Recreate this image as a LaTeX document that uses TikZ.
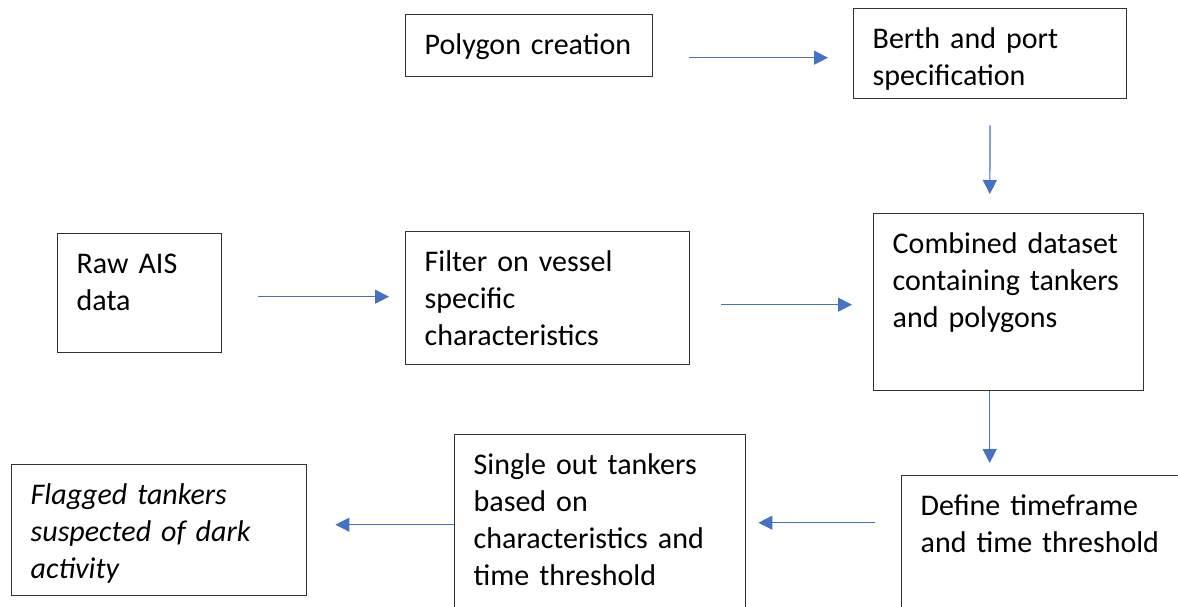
\documentclass[tikz,border=0pt]{standalone}
\usepackage{fontspec}
\setmainfont{Carlito}
\usetikzlibrary{arrows.meta}
\definecolor{arblue}{HTML}{4472C4}

\begin{document}
\begin{tikzpicture}[
  x=0.5pt, y=-0.5pt,
  font=\fontsize{15}{18.5}\selectfont,
  box/.style={draw=black!80, line width=0.7pt, anchor=north west, align=left,
              inner xsep=9.5pt, inner ysep=0pt, text height=20pt},
  ar/.style={-{Triangle[length=7pt,width=7pt]}, draw=arblue, fill=arblue,
             line width=0.6pt}]

\clip (0,0) rectangle (1178,606);

% top row: polygons
\node[box, text width=104.5pt, text depth=11pt] (poly)  at (405,14) {Polygon creation};
\node[box, text width=117.5pt, text depth=25pt] (berth) at (853,8)  {Berth and port\\specification};

% middle row: AIS data
\node[box, text width=63pt,  text depth=39.5pt] (raw)    at (57,233)  {Raw AIS\\data};
\node[box, text width=123pt, text depth=46.5pt] (filter) at (405,231) {Filter on vessel\\specific\\characteristics};
\node[box, text width=116pt, text depth=68.5pt] (comb)   at (873,213) {Combined dataset\\containing tankers\\and polygons};

% bottom row, read right to left
\node[box, text width=131pt,   text depth=55pt] (define) at (901,475) {Define timeframe\\and time threshold};
\node[box, text width=126.5pt, text depth=80pt] (single) at (454,434) {Single out tankers\\based on\\characteristics and\\time threshold};
\node[box, text width=128.5pt, text depth=45.5pt, font=\fontsize{15}{18.5}\selectfont\itshape]
     (flag) at (11,464) {Flagged tankers\\suspected of dark\\activity};

\draw[ar, shorten <=18pt, shorten >=12.5pt] ([yshift=-6pt]poly.east) -- ([yshift=-2pt]berth.west);
\draw[ar, shorten <=13pt, shorten >=9.5pt] (berth.south) -- ([xshift=-9.5pt]comb.north);
\draw[ar, shorten <=18pt, shorten >=8pt] ([yshift=-1.75pt]raw.east) -- ([yshift=0.75pt]filter.west);
\draw[ar, shorten <=15.5pt, shorten >=10.5pt] ([yshift=-3.25pt]filter.east) -- ([yshift=-1.25pt]comb.west);
\draw[ar, shorten >=6pt] ([xshift=-9.5pt]comb.south) -- ([xshift=-31pt]define.north);
\draw[ar, shorten <=13pt, shorten >=6pt] ([yshift=14pt]define.west) -- ([yshift=6pt]single.east);
\draw[ar, shorten >=14pt] ([yshift=5pt]single.west) -- ([yshift=2.75pt]flag.east);
\end{tikzpicture}
\end{document}
